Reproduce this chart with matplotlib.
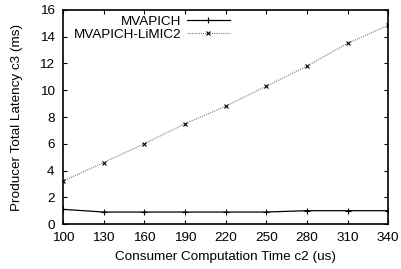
import matplotlib
matplotlib.use("Agg")
import matplotlib.pyplot as plt

# -- Data ---------------------------------------------------------------
compute_time = [100, 130, 160, 190, 220, 250, 280, 310, 340]
mvapich = [1.1, 0.9, 0.9, 0.9, 0.9, 0.9, 1.0, 1.0, 1.0]
limic2 = [3.2, 4.6, 6.0, 7.5, 8.8, 10.3, 11.8, 13.5, 14.85]
x_ticks = compute_time
y_ticks = list(range(0, 17, 2))

plt.rcParams["font.family"] = ["Liberation Sans", "DejaVu Sans"]
plt.rcParams["font.size"] = 9.7

fig = plt.figure(figsize=(4.01, 2.69), dpi=100)
ax = fig.add_axes([0.157, 0.167, 0.811, 0.796])

ax.plot(compute_time, mvapich, color="black", linewidth=0.9,
        marker="+", markersize=4, markeredgewidth=0.8, label="MVAPICH")
ax.plot(compute_time, limic2, color="#777777", linewidth=0.8, linestyle=(0, (1, 1)),
        marker="x", markersize=3.5, markeredgecolor="black", markeredgewidth=0.8,
        label="MVAPICH-LiMIC2")

ax.set_xlim(100, 340)
ax.set_ylim(0, 16)
ax.set_xticks(x_ticks)
ax.set_yticks(y_ticks)
ax.tick_params(direction="in", top=True, right=True, length=3, width=0.8)
ax.tick_params(axis="y", pad=6)
ax.tick_params(axis="x", pad=6)
for s in ax.spines.values():
    s.set_linewidth(1.2)

ax.set_xlabel("Consumer Computation Time c2 (us)", labelpad=5)
ax.set_ylabel("Producer Total Latency c3 (ms)", labelpad=12)

# legend sits left of the right edge, as in the gnuplot original
ax.legend(loc="upper right", bbox_to_anchor=(230 / 401, 0.943),
          bbox_transform=fig.transFigure, frameon=False, markerfirst=False,
          handlelength=3.2, handletextpad=0.4, labelspacing=0.05,
          borderaxespad=0, borderpad=0, fontsize=9.7)

fig.savefig("out.png", dpi=100)
